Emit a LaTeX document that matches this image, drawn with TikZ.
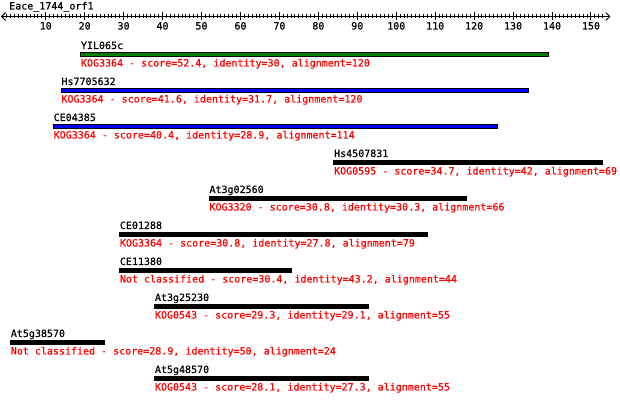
\documentclass[tikz,border=0pt]{standalone}
\usepackage{fontspec}
\setmonofont[FakeBold=0.6]{DejaVu Sans Mono}
\usetikzlibrary{arrows.meta, positioning}
\definecolor{hitgreen}{RGB}{0,128,0}
\definecolor{hitblue}{RGB}{0,0,255}
\definecolor{hitred}{RGB}{255,0,0}

\begin{document}
\begin{tikzpicture}[x=3.895pt, y=-1pt,
    hitname/.style={anchor=base west, inner sep=0pt, font=\fontsize{10}{12}\selectfont\ttfamily},
    hitinfo/.style={hitname, text=hitred},
    hitbar/.style={draw=black, line width=1pt, fill=black},
    ticklbl/.style={anchor=base, inner sep=0pt, font=\fontsize{10}{12}\selectfont\ttfamily},
    ruler/.style={{Straight Barb[length=4pt,width=8pt]}-{Straight Barb[length=4pt,width=8pt]}, line width=1pt}
]
\useasboundingbox (-1.733,0) rectangle (157.45,401);
% query and ruler
\node[hitname] (query) at (0.58,9.5) {Eace\_1744\_orf1};
\coordinate (rl) at (-1.5,16.5);
\coordinate (rr) at (155,16.5);
\draw[ruler] (rl) -- (rr);
\foreach \i in {0,...,153}
    \draw[line width=1pt] (\i,14.5) -- (\i,18.5);
\foreach \i in {10,20,...,150} {
    \draw[line width=1pt] (\i,12.5) -- (\i,20.5);
    \node[ticklbl] (t\i) at (\i,29.5) {\i};
}
% hits
\draw[hitbar, fill=hitgreen] (19,52.5) rectangle (139,56.5);
\node[hitname] (yil) at (19,49) {YIL065c};
\node[hitinfo] (yil-info) at (19,66.5) {KOG3364 - score=52.4, identity=30, alignment=120};

\draw[hitbar, fill=hitblue] (14,88.5) rectangle (134,92.5);
\node[hitname] (hs77) at (14,85) {Hs7705632};
\node[hitinfo] (hs77-info) at (14,102.5) {KOG3364 - score=41.6, identity=31.7, alignment=120};

\draw[hitbar, fill=hitblue] (12,124.5) rectangle (126,128.5);
\node[hitname] (ce04) at (12,121) {CE04385};
\node[hitinfo] (ce04-info) at (12,138.5) {KOG3364 - score=40.4, identity=28.9, alignment=114};

\draw[hitbar] (84,160.5) rectangle (153,164.5);
\node[hitname] (hs45) at (84,157) {Hs4507831};
\node[hitinfo] (hs45-info) at (84,174.5) {KOG0595 - score=34.7, identity=42, alignment=69};

\draw[hitbar] (52,196.5) rectangle (118,200.5);
\node[hitname] (at02) at (52,193) {At3g02560};
\node[hitinfo] (at02-info) at (52,210.5) {KOG3320 - score=30.8, identity=30.3, alignment=66};

\draw[hitbar] (29,232.5) rectangle (108,236.5);
\node[hitname] (ce01) at (29,229) {CE01288};
\node[hitinfo] (ce01-info) at (29,246.5) {KOG3364 - score=30.8, identity=27.8, alignment=79};

\draw[hitbar] (29,268.5) rectangle (73,272.5);
\node[hitname] (ce11) at (29,265) {CE11380};
\node[hitinfo] (ce11-info) at (29,282.5) {Not classified - score=30.4, identity=43.2, alignment=44};

\draw[hitbar] (38,304.5) rectangle (93,308.5);
\node[hitname] (at25) at (38,301) {At3g25230};
\node[hitinfo] (at25-info) at (38,318.5) {KOG0543 - score=29.3, identity=29.1, alignment=55};

\draw[hitbar] (1,340.5) rectangle (25,344.5);
\node[hitname] (at38) at (1,337) {At5g38570};
\node[hitinfo] (at38-info) at (1,354.5) {Not classified - score=28.9, identity=50, alignment=24};

\draw[hitbar] (38,376.5) rectangle (93,380.5);
\node[hitname] (at48) at (38,373) {At5g48570};
\node[hitinfo] (at48-info) at (38,390.5) {KOG0543 - score=28.1, identity=27.3, alignment=55};
\end{tikzpicture}
\end{document}
